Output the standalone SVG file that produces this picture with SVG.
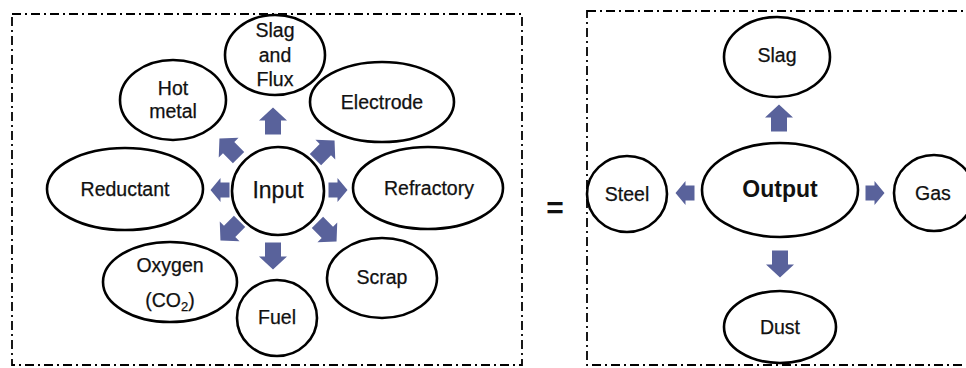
<svg xmlns="http://www.w3.org/2000/svg" width="966" height="368" viewBox="0 0 966 368">
  <style>
    .frame { fill: none; stroke: #000; stroke-width: 1.8; stroke-dasharray: 9 4 2 4; }
    .node ellipse { fill: #fff; stroke: #000; stroke-width: 2.6; }
    .node text { font-family: "Liberation Sans", Arial, sans-serif; font-size: 19.5px; fill: #111; text-anchor: middle; stroke: #111; stroke-width: 0.25; }
    .node text.hub { font-size: 23px; }
    .node text.hubb { font-size: 23px; font-weight: bold; stroke-width: 0; }
    .eq { font-family: "Liberation Sans", Arial, sans-serif; font-size: 30px; font-weight: bold; fill: #111; text-anchor: middle; }
    .arrow { fill: #59629b; }
  </style>
  <defs>
    <!-- block arrow pointing right, centred on the origin -->
    <path id="big" d="M-13.5,-8 L0.5,-8 L0.5,-14 L13.5,0 L0.5,14 L0.5,8 L-13.5,8 Z"/>
    <path id="small" d="M-9.5,-7.5 L-0.5,-7.5 L-0.5,-12 L9.5,0 L-0.5,12 L-0.5,7.5 L-9.5,7.5 Z"/>
  </defs>

  <!-- dash-dot frames -->
  <rect class="frame" x="12" y="14" width="510" height="351"/>
  <rect class="frame" x="587" y="11" width="400" height="354"/>

  <!-- input side nodes -->
  <g id="slag-flux" class="node">
    <ellipse cx="275" cy="55" rx="50" ry="40"/>
    <text x="275" y="37">Slag</text>
    <text x="275" y="62">and</text>
    <text x="275" y="86">Flux</text>
  </g>
  <g id="hot-metal" class="node">
    <ellipse cx="173" cy="100" rx="53" ry="40"/>
    <text x="173" y="95">Hot</text>
    <text x="173" y="118">metal</text>
  </g>
  <g id="electrode" class="node">
    <ellipse cx="382" cy="102" rx="72" ry="40"/>
    <text x="382" y="109">Electrode</text>
  </g>
  <g id="reductant" class="node">
    <ellipse cx="125" cy="189" rx="78" ry="41"/>
    <text x="125" y="196">Reductant</text>
  </g>
  <g id="input" class="node">
    <ellipse cx="278" cy="191" rx="46" ry="44"/>
    <text class="hub" x="278" y="198">Input</text>
  </g>
  <g id="refractory" class="node">
    <ellipse cx="428" cy="188" rx="75" ry="41"/>
    <text x="429" y="195">Refractory</text>
  </g>
  <g id="oxygen" class="node">
    <ellipse cx="170" cy="282" rx="67" ry="40"/>
    <text x="170" y="272">Oxygen</text>
    <text x="170" y="307">(CO<tspan font-size="13" dy="4">2</tspan><tspan dy="-4">)</tspan></text>
  </g>
  <g id="fuel" class="node">
    <ellipse cx="277" cy="318" rx="40" ry="38"/>
    <text x="277" y="324">Fuel</text>
  </g>
  <g id="scrap" class="node">
    <ellipse cx="382" cy="278" rx="55" ry="40"/>
    <text x="382" y="284">Scrap</text>
  </g>

  <!-- equals sign between the two sides -->
  <text class="eq" x="555" y="218">=</text>

  <!-- output side nodes -->
  <g id="slag" class="node">
    <ellipse cx="777" cy="57" rx="53" ry="40"/>
    <text x="777" y="62">Slag</text>
  </g>
  <g id="output" class="node">
    <ellipse cx="780" cy="190" rx="78" ry="47"/>
    <text class="hubb" x="780" y="197">Output</text>
  </g>
  <g id="steel" class="node">
    <ellipse cx="627" cy="194" rx="40" ry="38"/>
    <text x="627" y="201">Steel</text>
  </g>
  <g id="gas" class="node">
    <ellipse cx="934" cy="193" rx="40" ry="38"/>
    <text x="933" y="200">Gas</text>
  </g>
  <g id="dust" class="node">
    <ellipse cx="780" cy="327" rx="56" ry="36"/>
    <text x="780" y="334">Dust</text>
  </g>

  <!-- block-arrow connectors -->
  <g id="connectors" class="arrow">
    <use href="#big" transform="translate(273,121) rotate(-90)"/>
    <use href="#big" transform="translate(273,256) rotate(90)"/>
    <use href="#small" transform="translate(220,190) rotate(180)"/>
    <use href="#small" transform="translate(338,190)"/>
    <use href="#big" transform="translate(229,148) rotate(-135)"/>
    <use href="#big" transform="translate(325,150) rotate(-45)"/>
    <use href="#big" transform="translate(230,231) rotate(135)"/>
    <use href="#big" transform="translate(327,232) rotate(45)"/>

    <use href="#big" transform="translate(779,118) rotate(-90)"/>
    <use href="#big" transform="translate(780,264) rotate(90)"/>
    <use href="#small" transform="translate(685,193) rotate(180)"/>
    <use href="#small" transform="translate(875,193)"/>
  </g>
</svg>
